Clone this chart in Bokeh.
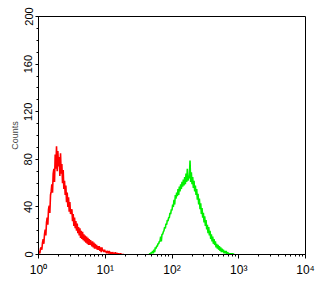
import numpy as np
from bokeh.plotting import figure
from bokeh.models import Range1d, FixedTicker
from bokeh.embed import file_html
from bokeh.resources import INLINE

# red histogram: channels from log10 = 0.00, step 0.01
red_start = 0.0
red_counts = [
    0, 3, 1, 5, 6, 4, 10, 13, 9, 17,
    21, 16, 27, 31, 25, 38, 41, 35, 50, 53,
    59, 52, 68, 72, 61, 84, 72, 91, 70, 87,
    74, 82, 66, 85, 68, 76, 60, 71, 55, 62,
    50, 58, 44, 52, 40, 48, 36, 44, 34, 36,
    38, 28, 34, 24, 31, 22, 28, 20, 26, 18,
    23, 16, 22, 14, 20, 13, 19, 12, 17, 11,
    16, 10, 15, 9, 14, 8, 13, 8, 12, 9,
    7, 11, 6, 10, 5, 9, 5, 8, 4, 7,
    4, 7, 3, 6, 2, 6, 3, 4, 2, 4,
    2, 3, 1, 3, 2, 1, 3, 1, 1, 2,
    0, 2, 1, 1, 0, 2, 0, 1, 1, 0,
    1, 0, 0, 1, 0, 0, 0, 0, 0,
]
# green histogram: channels from log10 = 1.66, step 0.01
green_start = 1.66
green_counts = [
    0, 1, 0, 2, 1, 3, 1, 4, 2, 6,
    5, 7, 7, 9, 9, 11, 11, 15, 11, 17,
    17, 19, 20, 23, 22, 26, 25, 29, 28, 31,
    31, 35, 34, 38, 37, 42, 40, 46, 42, 50,
    47, 52, 49, 55, 50, 57, 53, 59, 55, 61,
    57, 63, 58, 65, 59, 68, 61, 72, 62, 66,
    64, 79, 61, 69, 59, 65, 56, 62, 53, 58,
    50, 55, 46, 51, 42, 47, 38, 43, 34, 39,
    31, 35, 27, 32, 24, 29, 21, 25, 18, 23,
    16, 20, 13, 17, 11, 15, 9, 13, 8, 11,
    6, 9, 5, 8, 4, 7, 3, 6, 2, 5,
    2, 4, 1, 3, 1, 3, 0, 2, 1, 1,
    0, 1, 0, 1, 0, 1, 0, 0, 0,
]
channel_step = 0.01
x_ticks = [1, 10, 100, 1000, 10000]
x_tick_labels = ["10\u2070", "10\u00b9", "10\u00b2", "10\u00b3", "10\u2074"]
y_ticks = [0, 40, 80, 120, 160, 200]

red_x = 10 ** (red_start + channel_step * np.arange(len(red_counts)))
green_x = 10 ** (green_start + channel_step * np.arange(len(green_counts)))

p = figure(width=325, height=288, x_axis_type="log", output_backend="svg",
           toolbar_location=None, x_range=Range1d(1, 10000), y_range=Range1d(0, 200),
           min_border_left=38, min_border_right=20, min_border_top=16, min_border_bottom=34)
p.grid.visible = False
p.outline_line_color = "black"
p.outline_line_width = 1

p.line(red_x, red_counts, line_color="#ff0000", line_width=1.6)
p.line(green_x, green_counts, line_color="#00f000", line_width=1.6)

font = "Liberation Sans"
xa = p.xaxis[0]
xa.ticker = FixedTicker(ticks=x_ticks, minor_ticks=[m * 10 ** e for e in range(4) for m in range(2, 10)])
xa.major_label_overrides = {t: l for t, l in zip(x_ticks, x_tick_labels)}
xa.major_label_text_font = font
xa.major_label_text_font_size = "12px"
xa.major_label_text_color = "black"
xa.major_label_standoff = 4
xa.major_tick_out = 4
xa.major_tick_in = 0
xa.minor_tick_out = 2
xa.minor_tick_in = 0
xa.axis_line_color = "black"

ya = p.yaxis[0]
ya.ticker = FixedTicker(ticks=y_ticks, minor_ticks=list(range(0, 201, 10)))
ya.major_label_orientation = "vertical"
ya.major_label_text_font = font
ya.major_label_text_font_size = "11px"
ya.major_label_text_color = "black"
ya.major_label_standoff = 3
ya.major_tick_out = 3
ya.major_tick_in = 0
ya.minor_tick_out = 2
ya.minor_tick_in = 0
ya.axis_label = "Counts"
ya.axis_label_text_font = font
ya.axis_label_text_font_size = "9px"
ya.axis_label_text_font_style = "normal"
ya.axis_label_standoff = 2
ya.axis_line_color = "black"

open("out.html", "w").write(file_html(p, INLINE))
